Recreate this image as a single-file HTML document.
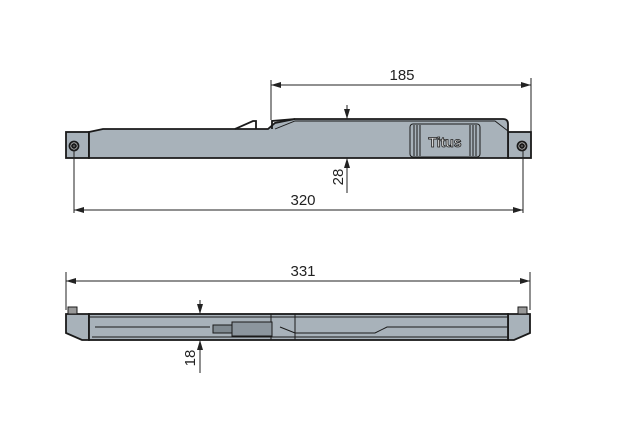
<!DOCTYPE html>
<html><head><style>html,body{margin:0;padding:0;background:#fff}svg{display:block}</style></head>
<body>
<svg width="629" height="447" viewBox="0 0 629 447" xmlns="http://www.w3.org/2000/svg" font-family="Liberation Sans, sans-serif">
<defs>
<marker id="a" viewBox="0 0 10 6" refX="10" refY="3" markerWidth="10" markerHeight="6" orient="auto-start-reverse" markerUnits="userSpaceOnUse"><path d="M0,0L10,3L0,6z" fill="#222"/></marker>
</defs>
<g fill="#a8b2ba" stroke="#1a1a1a" stroke-width="1.8">
<rect x="66" y="132" width="23" height="26"/>
<rect x="508" y="132" width="23" height="26"/>
<path d="M89,158 L89,132 L103,129 L268,129 L275,123 L295,119 L503,119 Q508,119 508,124 L508,158 Z"/>
<path d="M235,129 L253,121 L256,121 L256,129" fill="none"/>
<path d="M272,129 L272,121 L295,119" fill="none"/>
<path d="M275,129 L295,121 L495,121 L508,131" fill="none" stroke-width="0.9"/>
<rect x="410" y="124" width="70" height="33" rx="3" fill="none" stroke-width="1"/>
<path d="M414,125v31M417,125v31M420,125v31M470,125v31M473,125v31M476,125v31" stroke-width="1"/>
<circle cx="74" cy="146" r="4.5" fill="#ccc"/><circle cx="74" cy="146" r="2" fill="#555"/>
<circle cx="522" cy="146" r="4.5" fill="#ccc"/><circle cx="522" cy="146" r="2" fill="#555"/>
<path d="M66,314 L89,314 L89,340 L82,340 L66,333 Z"/>
<path d="M508,314 L530,314 L530,333 L514,340 L508,340 Z"/>
<rect x="89" y="314" width="419" height="26"/>
<path d="M89,317 H508 M95,327 H210 M92,337 H508 M280,327 L295,333 H375 L387,327 H508 M271,314 V340 M295,314 V340" fill="none" stroke-width="1"/>
<rect x="213" y="325" width="35" height="8" fill="#7f8990" stroke-width="1"/>
<rect x="232" y="322" width="40" height="14" fill="#8c969e" stroke-width="1"/>
<rect x="68" y="307" width="9" height="7" fill="#999" stroke-width="1"/>
<rect x="518" y="307" width="9" height="7" fill="#999" stroke-width="1"/>
</g>
<text x="445" y="147" font-size="14" font-weight="bold" fill="#ddd" stroke="#222" stroke-width="0.8" text-anchor="middle">Titus</text>
<g stroke="#222" stroke-width="1" fill="none">
<path d="M271,80V120M531,78V132M74,150V213M523,150V213M66,272V310M530,272V310"/>
<line x1="271" y1="85" x2="531" y2="85" marker-start="url(#a)" marker-end="url(#a)"/>
<line x1="74" y1="210" x2="523" y2="210" marker-start="url(#a)" marker-end="url(#a)"/>
<line x1="66" y1="281" x2="530" y2="281" marker-start="url(#a)" marker-end="url(#a)"/>
<line x1="347" y1="105" x2="347" y2="119" marker-end="url(#a)"/>
<line x1="347" y1="193" x2="347" y2="158" marker-end="url(#a)"/>
<line x1="200" y1="300" x2="200" y2="314" marker-end="url(#a)"/>
<line x1="200" y1="373" x2="200" y2="340" marker-end="url(#a)"/>
</g>
<g font-size="15" fill="#222" text-anchor="middle">
<text x="402" y="80">185</text>
<text x="303" y="205">320</text>
<text x="303" y="276">331</text>
<text transform="translate(343,177) rotate(-90)">28</text>
<text transform="translate(195,358) rotate(-90)">18</text>
</g>
</svg>
</body></html>
